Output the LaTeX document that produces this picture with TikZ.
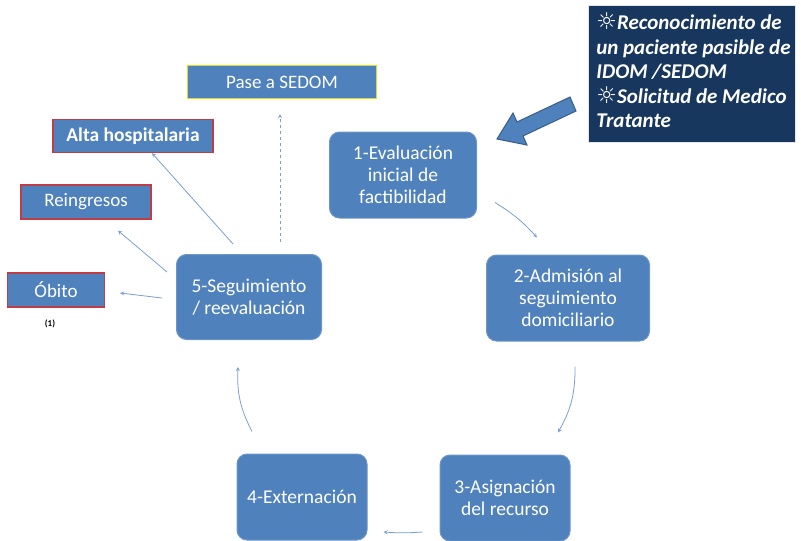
\documentclass[tikz,border=0pt]{standalone}
\usepackage{fontspec}
\setmainfont{Carlito}
\newfontfamily\symfont{DejaVu Sans}
\usetikzlibrary{arrows,calc,positioning}

\definecolor{stagefill}{RGB}{79,129,189}
\definecolor{stageedge}{RGB}{108,150,200}
\definecolor{navy}{RGB}{23,55,94}
\definecolor{redline}{RGB}{192,60,70}
\definecolor{yelline}{RGB}{220,220,30}
\definecolor{linkblue}{RGB}{120,160,210}
\definecolor{bigedge}{RGB}{56,93,138}

\newcommand{\sunmark}{{\symfont\fontsize{23}{24}\selectfont ☼}}

\begin{document}
\begin{tikzpicture}[
    x=1pt, y=-1pt,
    stage/.style={draw=stageedge, line width=1pt, rounded corners=10pt, fill=stagefill,
                  align=center, text=white, minimum width=147pt, minimum height=86pt,
                  font=\fontsize{19.5}{22}\selectfont},
    outcome/.style={draw=redline, line width=1.2pt, fill=stagefill, text=white,
                    minimum height=34pt, font=\fontsize{19}{22}\selectfont},
    line/.style={->, >=stealth, linkblue, line width=0.8pt},
    loop/.style={->, >=stealth, linkblue, line width=0.8pt, dashed}
]
    \useasboundingbox (0,0) rectangle (801,541);

    % cycle
    \node[stage] (eval) at (403,175) {1-Evaluación\\inicial de\\factibilidad};
    \node[stage, minimum width=163pt] (admis) at (568,298) {2-Admisión al\\seguimiento\\domiciliario};
    \node[stage, minimum width=130pt] (asign) at (505,498) {3-Asignación\\del recurso};
    \node[stage, minimum width=130pt] (extern) at (302,497) {4-Externación};
    \node[stage, minimum width=145pt, minimum height=85pt] (segui) at (249,297) {5-Seguimiento\\/ reevaluación};

    % outcomes
    \node[outcome, draw=yelline, minimum width=189pt, minimum height=33pt] (pase) at (282,82) {Pase a SEDOM};
    \node[outcome, minimum width=160pt, minimum height=33pt, font=\fontsize{19.5}{22}\selectfont\bfseries] (alta) at (133,136) {Alta hospitalaria};
    \node[outcome, minimum width=130pt] (rein) at (86,202) {Reingresos};
    \node[outcome, minimum width=97pt] (obito) at (56,290) {Óbito};
    \node[below=9pt of obito, xshift=-6pt, font=\fontsize{9}{10}\selectfont\bfseries] (nota) {(1)};

    % entry
    \node[draw=white!80!gray, line width=1pt, fill=navy, text=white, anchor=north west,
          minimum width=207pt, minimum height=137pt, inner sep=3pt,
          font=\fontsize{21}{24.5}\selectfont\bfseries\itshape] (origen) at (588,5)
        {\spaceskip=0.22em\relax
         \begin{tabular}{@{\hspace{3pt}}l@{}}
         \sunmark Reconocimiento de\\un paciente pasible de\\IDOM /SEDOM\\\sunmark Solicitud de Medico\\Tratante
         \end{tabular}};
    \draw[bigedge, line width=1pt, fill=stagefill]
        (576,111) -- (523,136) -- (527,145) -- (497,139) -- (513,113) -- (517,122) -- (570,97) -- cycle;

    \draw[line] ([xshift=18pt,yshift=16pt]eval.south east) to[bend left=8] ([xshift=-31pt,yshift=17pt]admis.north);
    \draw[line] ([xshift=7pt,yshift=-25pt]admis.south) to[bend left=15] ([xshift=53pt,yshift=22pt]asign.north);
    \draw[line] ([xshift=-17pt,yshift=-34pt]asign.west) to[bend left=4] ([xshift=16pt,yshift=-35pt]extern.east);
    \draw[line] ([xshift=-50pt,yshift=22pt]extern.north) to[bend left=15] ([xshift=-11pt,yshift=-27pt]segui.south);

    \draw[line] ([xshift=-16pt,yshift=10pt]segui.north) -- ([xshift=19pt]alta.south);
    \draw[line] ([xshift=-9pt,yshift=25pt]segui.west) -- ([xshift=32pt,yshift=-11pt]rein.south);
    \draw[line] ([xshift=-14pt,yshift=-1pt]segui.west) -- ([xshift=15pt,yshift=-3pt]obito.east);
    \draw[loop] ([xshift=31pt,yshift=12pt]segui.north) -- ([xshift=-2pt,yshift=-15pt]pase.south);
\end{tikzpicture}
\end{document}
